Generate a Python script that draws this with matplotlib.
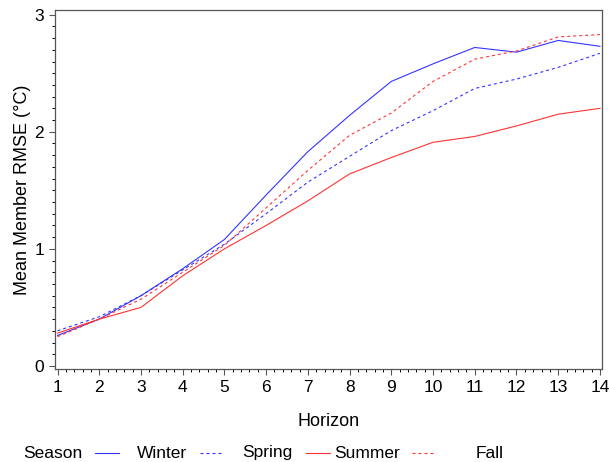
import matplotlib
matplotlib.use("Agg")
import matplotlib.pyplot as plt
from matplotlib.lines import Line2D
from matplotlib.ticker import MultipleLocator

plt.rcParams['font.family'] = ['Liberation Sans', 'DejaVu Sans']

# data
horizon = list(range(1, 15))
winter = [0.26, 0.40, 0.60, 0.83, 1.08, 1.46, 1.83, 2.14, 2.43, 2.58, 2.72, 2.68, 2.78, 2.73]
spring = [0.30, 0.42, 0.60, 0.82, 1.04, 1.30, 1.57, 1.79, 2.01, 2.18, 2.37, 2.45, 2.55, 2.67]
summer = [0.28, 0.40, 0.50, 0.77, 1.00, 1.20, 1.41, 1.64, 1.78, 1.91, 1.96, 2.05, 2.15, 2.20]
fall = [0.25, 0.40, 0.57, 0.80, 1.03, 1.35, 1.67, 1.97, 2.16, 2.43, 2.62, 2.69, 2.81, 2.83]
seasons = ["Winter", "Spring", "Summer", "Fall"]

blue = "#3333ff"
red = "#ff3333"
dash = (2.7, 2.7)
lw = 0.8

fig = plt.figure(figsize=(6.09, 4.62), dpi=100)
ax = fig.add_axes([55 / 609, 1 - 369 / 462, 547 / 609, 359 / 462])

styles = {
    "Winter": (blue, None),
    "Spring": (blue, dash),
    "Summer": (red, None),
    "Fall": (red, dash),
}
series = {"Winter": winter, "Spring": spring, "Summer": summer, "Fall": fall}

for s in seasons:
    c, d = styles[s]
    ln, = ax.plot(horizon, series[s], color=c, lw=lw)
    if d:
        ln.set_dashes(d)

ax.set_xlim(0.94, 14.05)
ax.set_ylim(-0.026, 3.04)
ax.xaxis.set_major_locator(MultipleLocator(1))
ax.xaxis.set_minor_locator(MultipleLocator(0.2))
ax.yaxis.set_major_locator(MultipleLocator(1))
ax.yaxis.set_minor_locator(MultipleLocator(0.1))
ax.tick_params(labelsize=12.5, colors="#555555", labelcolor="black", width=0.8)
ax.tick_params(which="major", length=4, pad=4)
ax.tick_params(which="minor", length=2.5, width=0.7)
for sp in ax.spines.values():
    sp.set_color("#555555")
    sp.set_linewidth(0.9)

ax.set_xlabel("Horizon", fontsize=13, labelpad=13)
ax.set_ylabel("Mean Member RMSE (°C)", fontsize=13, labelpad=2.5)

# legend row, SAS style
ly = 1 - 453 / 462
fig.text(23 / 609, ly, "Season", fontsize=12.5, va="center", ha="left")
line_x = [95, 200, 306, 412]
text_c = [162, 267, 367, 490]
for s, lx, tx in zip(seasons, line_x, text_c):
    c, d = styles[s]
    h = Line2D([lx / 609, (lx + 24) / 609], [ly, ly], color=c, lw=lw,
               transform=fig.transFigure)
    if d:
        h.set_dashes(d)
    fig.add_artist(h)
    fig.text(tx / 609, ly, s, fontsize=12.5, va="center", ha="center")

fig.savefig("out.png", dpi=100)
